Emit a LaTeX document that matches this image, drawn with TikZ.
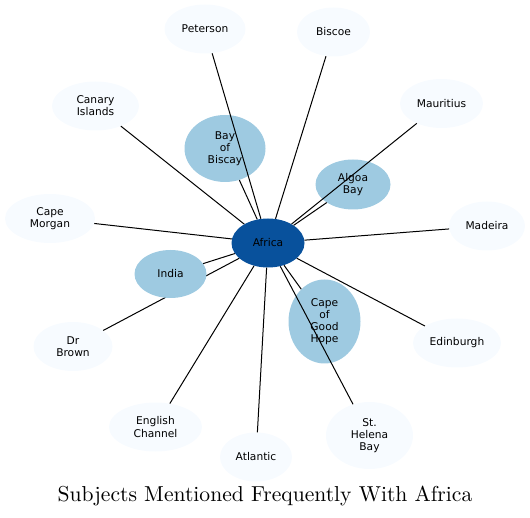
\documentclass[tikz,border=0pt]{standalone}
\usepackage{fontspec}
\newfontfamily\nodefont{DejaVu Sans}
\newfontfamily\titlefont{lmroman10-regular.otf}
\usetikzlibrary{shapes.geometric}
\definecolor{hubblue}{HTML}{08519C}
\definecolor{midblue}{HTML}{9ECAE1}
\definecolor{paleblue}{HTML}{F7FBFF}
\tikzset{
  bubble/.style={ellipse, inner sep=0pt, align=center, font=\nodefont\fontsize{10.67}{12.2}\selectfont, text=black},
  hub/.style={bubble, fill=hubblue},
  mid/.style={bubble, fill=midblue},
  outer/.style={bubble, fill=paleblue},
  link/.style={draw=black, line width=1pt},
}
\begin{document}
\begin{tikzpicture}[x=1pt,y=-1pt]
\useasboundingbox (0,0) rectangle (530,518);
% nodes
\node[hub, minimum width=73pt, minimum height=49pt] (africa) at (268,243) {Africa};
\node[outer, minimum width=81pt, minimum height=49pt] (peterson) at (205,29) {Peterson};
\node[outer, minimum width=73pt, minimum height=49pt] (biscoe) at (333.5,32) {Biscoe};
\node[outer, minimum width=87pt, minimum height=49pt] (canary) at (95.5,106) {Canary\\Islands};
\node[outer, minimum width=83pt, minimum height=49pt] (mauritius) at (441.5,103.5) {Mauritius};
\node[mid, minimum width=81pt, minimum height=67pt] (biscay) at (225,148.5) {Bay\\of\\Biscay};
\node[mid, minimum width=75pt, minimum height=50pt] (algoa) at (353,184.5) {Algoa\\Bay};
\node[outer, minimum width=90pt, minimum height=49pt] (capemorgan) at (50,218.5) {Cape\\Morgan};
\node[outer, minimum width=76pt, minimum height=49pt] (madeira) at (487,226) {Madeira};
\node[outer, minimum width=79pt, minimum height=49pt] (drbrown) at (73,346.5) {Dr\\Brown};
\node[mid, minimum width=72pt, minimum height=84pt] (cape) at (324.5,321.5) {Cape\\of\\Good\\Hope};
\node[outer, minimum width=88pt, minimum height=49pt] (edinburgh) at (457,343) {Edinburgh};
\node[outer, minimum width=93pt, minimum height=49pt] (english) at (155.5,427) {English\\Channel};
\node[outer, minimum width=72pt, minimum height=49pt] (atlantic) at (256,457) {Atlantic};
\node[outer, minimum width=87pt, minimum height=67pt] (sthelena) at (369.5,435.5) {St.\\Helena\\Bay};
% edge hidden under India
\draw[link] (africa) -- (drbrown);
\node[mid, minimum width=72pt, minimum height=48pt] (india) at (170.5,274) {India};
% other edges
\draw[link] (africa) -- (peterson);
\draw[link] (africa) -- (biscoe);
\draw[link] (africa) -- (canary);
\draw[link] (africa) -- (mauritius);
\draw[link] (africa) -- (biscay);
\draw[link] (africa) -- (algoa);
\draw[link] (africa) -- (capemorgan);
\draw[link] (africa) -- (madeira);
\draw[link] (africa) -- (india);
\draw[link] (africa) -- (cape);
\draw[link] (africa) -- (edinburgh);
\draw[link] (africa) -- (english);
\draw[link] (africa) -- (atlantic);
\draw[link] (africa) -- (sthelena);
% title
\node[font=\titlefont\fontsize{21.6}{26}\selectfont, anchor=base] (title) at (265,501.5) {Subjects Mentioned Frequently With Africa};
\end{tikzpicture}
\end{document}
